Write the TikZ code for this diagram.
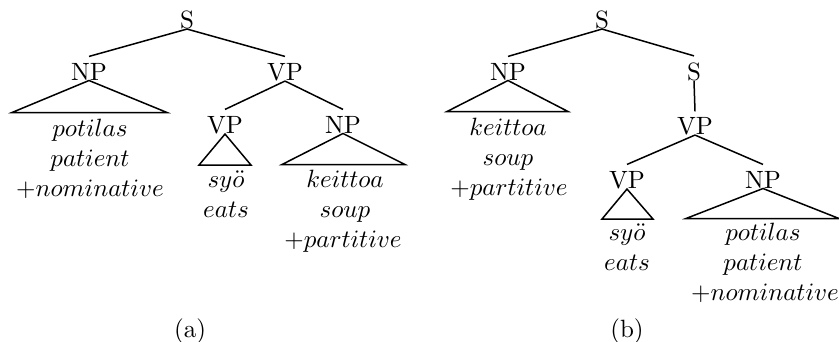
\documentclass[tikz,border=0pt]{standalone}
\begin{document}
\begin{tikzpicture}[x=0.4pt,y=-0.4pt,
  cat/.style={inner sep=0pt, anchor=base},
  leaf/.style={inner sep=0pt, anchor=base},
  branch/.style={line width=0.6pt},
  roofline/.style={line width=0.6pt, line join=miter}]
\useasboundingbox (0,0) rectangle (839,341);

% ---------- tree (a) ----------
\node[cat] (Sa)   at (187,28)  {S};
\node[cat] (NPa)  at (89,80)   {NP};
\node[cat] (VPa)  at (285,80)  {VP};
\node[cat] (VPa1) at (225,133) {VP};
\node[cat] (NPa2) at (343,133) {NP};

\draw[branch] (Sa.south) -- ([yshift=2.4pt]NPa.north);
\draw[branch] (Sa.south) -- ([yshift=2.4pt]VPa.north);
\draw[branch] (VPa.south) -- ([yshift=2.4pt]VPa1.north);
\draw[branch] (VPa.south) -- ([yshift=2.4pt]NPa2.north);

\draw[roofline] (NPa.south)  -- ++(-77,32) -- ++(155,0) -- cycle;
\draw[roofline] (VPa1.south) -- ++(-26,31) -- ++(52,0)  -- cycle;
\draw[roofline] (NPa2.south) -- ++(-61,31) -- ++(123,0) -- cycle;

\node[leaf] (a1) at (90,136)  {$potilas$};
\node[leaf] (a2) at (90,166)  {$patient$};
\node[leaf] (a3) at (90,196)  {$+nominative$};
\node[leaf] (a4) at (226,187) {$sy\ddot{o}$};
\node[leaf] (a5) at (226,217) {$eats$};
\node[leaf] (a6) at (345,187) {$keittoa$};
\node[leaf] (a7) at (345,217) {$soup$};
\node[leaf] (a8) at (343,247) {$+partitive$};

\node[leaf] (capa) at (190,337) {(a)};

% ---------- tree (b) ----------
\node[cat] (Sb)   at (602,28)  {S};
\node[cat] (NPb)  at (508,80)  {NP};
\node[cat] (Sb2)  at (694,80)  {S};
\node[cat] (VPb)  at (695,134) {VP};
\node[cat] (VPb1) at (627,188) {VP};
\node[cat] (NPb2) at (763,188) {NP};

\draw[branch] (Sb.south) -- ([yshift=2.4pt]NPb.north);
\draw[branch] (Sb.south) -- ([yshift=2.4pt]Sb2.north);
\draw[branch] (Sb2.south) -- ([yshift=2pt]VPb.north);
\draw[branch] (VPb.south) -- ([yshift=2.4pt]VPb1.north);
\draw[branch] (VPb.south) -- ([yshift=2.4pt]NPb2.north);

\draw[roofline] (NPb.south)  -- ++(-61,31) -- ++(121,0) -- cycle;
\draw[roofline] (VPb1.south) -- ++(-25,30) -- ++(51,0)  -- cycle;
\draw[roofline] (NPb2.south) -- ++(-77,30) -- ++(153,0) -- cycle;

\node[leaf] (b1) at (508,135) {$keittoa$};
\node[leaf] (b2) at (508,165) {$soup$};
\node[leaf] (b3) at (509,195) {$+partitive$};
\node[leaf] (b4) at (627,240) {$sy\ddot{o}$};
\node[leaf] (b5) at (627,270) {$eats$};
\node[leaf] (b6) at (763,240) {$potilas$};
\node[leaf] (b7) at (763,270) {$patient$};
\node[leaf] (b8) at (765,300) {$+nominative$};

\node[leaf] (capb) at (627,337) {(b)};
\end{tikzpicture}
\end{document}
